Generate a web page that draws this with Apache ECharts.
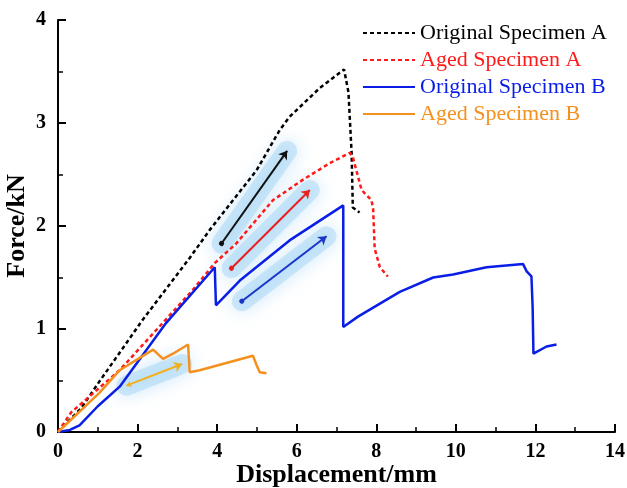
<!DOCTYPE html>
<html>
<head>
<meta charset="utf-8">
<script src="https://cdn.jsdelivr.net/npm/echarts@6/dist/echarts.min.js"></script>
<style>
html, body { margin: 0; padding: 0; background: #fff; }
#main { width: 627px; height: 488px; }
</style>
</head>
<body>
<div id="main"></div>
<script>
var chart = echarts.init(document.getElementById('main'));

// force-displacement curves, [mm, kN]
var origA = [[0,0],[0.58,0.23],[1.04,0.49],[2.13,1.09],[3.31,1.69],[3.81,1.96],[4.99,2.54],[5.57,2.93],[5.82,3.06],[6.58,3.34],[7.19,3.52],[7.3,3.3],[7.38,2.71],[7.41,2.18],[7.58,2.13]];
var agedA = [[0,0],[0.33,0.19],[1.55,0.6],[3.39,1.38],[3.94,1.64],[4.48,1.83],[5.4,2.25],[6.16,2.45],[6.83,2.61],[7.33,2.71],[7.41,2.67],[7.63,2.35],[7.88,2.25],[7.92,2.17],[7.96,1.78],[8.09,1.6],[8.29,1.51]];
var origB = [[0,0],[0.3,0.02],[0.54,0.065],[1.0,0.25],[1.55,0.44],[2.72,1.06],[3.94,1.6],[3.97,1.23],[4.57,1.47],[5.82,1.86],[7.17,2.2],[7.17,1.02],[7.54,1.12],[8.59,1.36],[9.43,1.5],[9.93,1.53],[10.77,1.6],[11.69,1.63],[11.78,1.56],[11.9,1.51],[11.93,1.21],[11.95,0.76],[12.28,0.83],[12.53,0.85]];
var agedB = [[0,0],[1.04,0.38],[1.55,0.6],[2.39,0.8],[2.64,0.71],[2.89,0.76],[3.27,0.85],[3.31,0.58],[3.56,0.6],[4.9,0.74],[4.99,0.65],[5.07,0.58],[5.24,0.57]];

// annotation arrows [start, end]
var arrowA = [[4.11,1.83],[5.76,2.73]];
var arrowAgedA = [[4.36,1.59],[6.33,2.35]];
var arrowB = [[4.62,1.27],[6.75,1.9]];
var arrowAgedB = [[1.72,0.45],[3.12,0.66]];

var names = ['Original Specimen A','Aged Specimen A','Original Specimen B','Aged Specimen B'];
var colors = ['#000000','#ff1a1a','#0a1ee6','#f5901e'];
var serif = 'Liberation Serif';

function curve(i, data, dashed) {
    return {
        name: names[i],
        type: 'line',
        data: data,
        showSymbol: false,
        symbol: 'none',
        z: 3,
        lineStyle: { color: colors[i], width: 2.5, type: dashed ? [4, 3] : 'solid' },
        itemStyle: { color: colors[i] }
    };
}

function glow(arr) {
    return {
        type: 'lines',
        coordinateSystem: 'cartesian2d',
        silent: true,
        z: 1,
        symbol: 'none',
        data: [{ coords: arr }],
        lineStyle: { color: 'rgba(160,210,245,0.45)', width: 20, opacity: 1, cap: 'round',
                     shadowBlur: 18, shadowColor: 'rgba(120,190,240,0.8)' }
    };
}

function arrow(arr, color, heads) {
    return {
        type: 'lines',
        coordinateSystem: 'cartesian2d',
        silent: true,
        z: 4,
        symbol: heads,
        symbolSize: [5, 8],
        data: [{ coords: arr }],
        lineStyle: { color: color, width: 2, opacity: 1 }
    };
}

var option = {
    backgroundColor: '#fff',
    animation: false,
    grid: { left: 58, right: 12, top: 20, bottom: 56, outerBoundsMode: 'none' },
    legend: {
        orient: 'vertical',
        left: 357,
        top: 17,
        itemWidth: 52,
        itemHeight: 22,
        itemGap: 5,
        itemStyle: { opacity: 0 },
        textStyle: { fontFamily: serif, fontSize: 22 },
        data: names.map(function (n, i) {
            return { name: n, textStyle: { color: colors[i] } };
        })
    },
    xAxis: {
        type: 'value',
        min: 0, max: 14, interval: 2,
        name: 'Displacement/mm',
        nameLocation: 'middle',
        nameGap: 30,
        nameMoveOverlap: false,
        nameTextStyle: { fontFamily: serif, fontWeight: 'bold', fontSize: 26, color: '#000' },
        axisLine: { lineStyle: { color: '#000', width: 2 } },
        axisTick: { inside: true, length: 8, lineStyle: { color: '#000', width: 2 } },
        minorTick: { show: true, splitNumber: 2, length: 5, lineStyle: { color: '#000', width: 1.5 } },
        splitLine: { show: false },
        axisLabel: { fontFamily: serif, fontWeight: 'bold', fontSize: 20, color: '#000', margin: 10 }
    },
    yAxis: {
        type: 'value',
        min: 0, max: 4, interval: 1,
        name: 'Force/kN',
        nameLocation: 'middle',
        nameGap: 28,
        nameMoveOverlap: false,
        nameTextStyle: { fontFamily: serif, fontWeight: 'bold', fontSize: 26, color: '#000' },
        axisLine: { show: true, lineStyle: { color: '#000', width: 2 } },
        axisTick: { show: true, inside: true, length: 8, lineStyle: { color: '#000', width: 2 } },
        minorTick: { show: true, splitNumber: 2, length: 5, lineStyle: { color: '#000', width: 1.5 } },
        splitLine: { show: false },
        axisLabel: { fontFamily: serif, fontWeight: 'bold', fontSize: 20, color: '#000', margin: 12 }
    },
    series: [
        glow(arrowA), glow(arrowAgedA), glow(arrowB), glow(arrowAgedB),
        curve(0, origA, true),
        curve(1, agedA, true),
        curve(2, origB, false),
        curve(3, agedB, false),
        arrow(arrowA, '#111', ['circle', 'arrow']),
        arrow(arrowAgedA, '#e8201e', ['circle', 'arrow']),
        arrow(arrowB, '#1a35c8', ['circle', 'arrow']),
        arrow(arrowAgedB, '#f0b01e', ['arrow', 'arrow'])
    ]
};

chart.setOption(option);
</script>
</body>
</html>
